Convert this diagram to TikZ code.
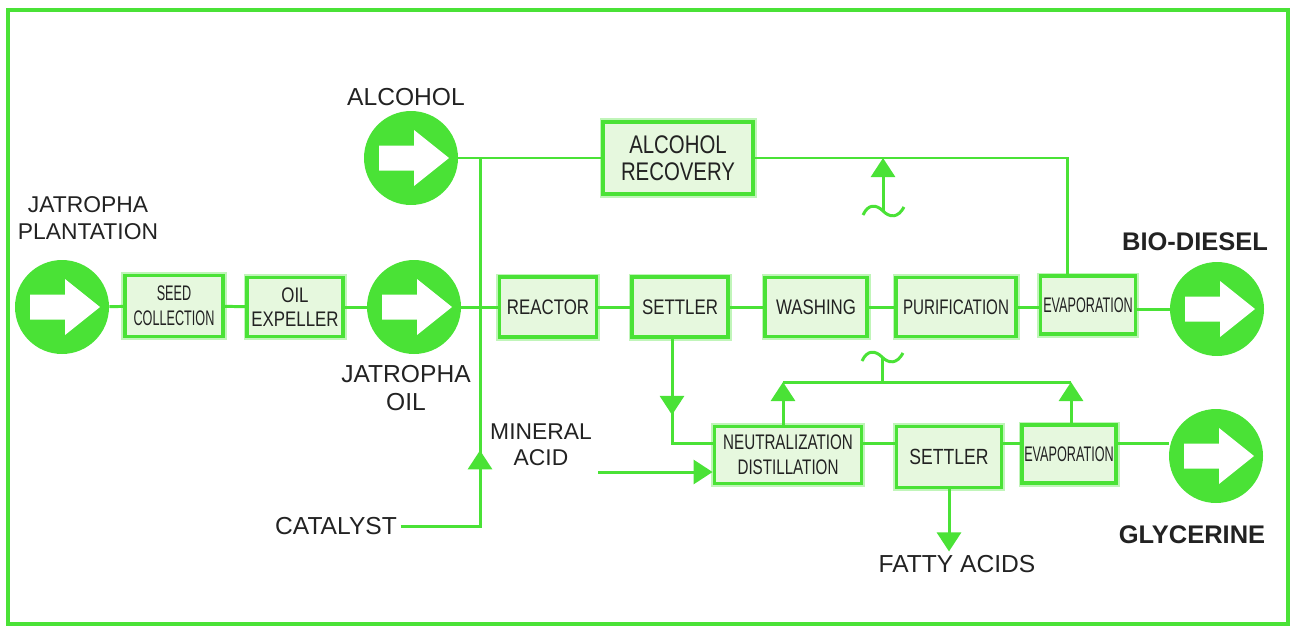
\documentclass[tikz,border=0pt]{standalone}
\usepackage{fontspec}
\setmainfont{Liberation Sans}
\newfontfamily\narrowfont[FakeStretch=0.8]{Liberation Sans}
\newfontfamily\slimfont[FakeStretch=0.72]{Liberation Sans}
\newfontfamily\thinfont[FakeStretch=0.6]{Liberation Sans}
\usetikzlibrary{arrows.meta,decorations.markings}
\definecolor{leaf}{RGB}{74,226,54}
\definecolor{leafpale}{RGB}{230,248,222}
\definecolor{ink}{RGB}{34,34,34}
\tikzset{%
  >={Triangle[width=4.8mm,length=3.8mm]},
  % Specifications for style of nodes:
       unit/.style = {rectangle, draw=leaf, fill=leafpale, line width=2.2pt,
                      preaction={draw=leaf!35, line width=4pt},
                      align=center, text=ink, inner sep=1pt,
                      font=\narrowfont\fontsize{12}{14}\selectfont},
   slimunit/.style = {unit, font=\slimfont\fontsize{12}{14}\selectfont},
   thinunit/.style = {unit, font=\thinfont\fontsize{12}{14}\selectfont},
    flowdot/.style = {circle, fill=leaf, minimum size=1.88cm, inner sep=0pt,
                      path picture={\fill[white,
                        shift={(path picture bounding box.center)}]
                        (-32,-12.5) -- (3,-12.5) -- (3,-28) -- (38,0)
                        -- (3,28) -- (3,12.5) -- (-32,12.5) -- cycle;}},
        txt/.style = {inner sep=2pt, align=center, text=ink},
       flow/.style = {draw=leaf, line width=1.7pt},
      frame/.style = {draw=leaf, line width=1.8pt},
    arrowat/.style = {postaction={decorate}, decoration={markings,
                      mark=at position #1 with
                      {\arrow{Triangle[width=4.8mm,length=3.8mm]}}}},
       wave/.pic   = {\draw[flow] (-20,4) .. controls (-15,-7) and (-7,-7) .. (0,0)
                      .. controls (7,7) and (15,7) .. (21,-4);},
}
\begin{document}
\begin{tikzpicture}[x=0.02cm, y=-0.02cm, font=\fontsize{14}{17}\selectfont]
  \useasboundingbox (0,0) rectangle (1290,626);
  \draw[frame] (8,10) rectangle (1288,624);

  % Specification of nodes (position, etc.)
  \node (plant)    [flowdot]                          at (62,307)   {};
  \node (seed)     [thinunit, minimum width=1.96cm, minimum height=1.22cm]
                                                      at (174,306)  {SEED\\COLLECTION};
  \node (expel)    [unit, minimum width=1.92cm, minimum height=1.18cm]
                                                      at (295,307)  {OIL\\EXPELLER};
  \node (oil)      [flowdot]                          at (414,307)  {};
  \node (alc)      [flowdot]                          at (411,158)  {};
  \node (recov)    [unit, minimum width=3cm, minimum height=1.44cm,
                    font=\narrowfont\fontsize{14.5}{15.5}\selectfont]
                                                      at (678,158)  {ALCOHOL\\RECOVERY};
  \node (reactor)  [unit, minimum width=1.94cm, minimum height=1.2cm]
                                                      at (548,307)  {REACTOR};
  \node (settler)  [unit, minimum width=1.92cm, minimum height=1.2cm]
                                                      at (680,307)  {SETTLER};
  \node (wash)     [unit, minimum width=2.04cm, minimum height=1.18cm]
                                                      at (816,307)  {WASHING};
  \node (purif)    [slimunit, minimum width=2.4cm, minimum height=1.18cm]
                                                      at (956,307)  {PURIFICATION};
  \node (evap1)    [thinunit, minimum width=1.9cm, minimum height=1.16cm]
                                                      at (1088,305) {EVAPORATION};
  \node (biod)     [flowdot]                          at (1217,309) {};
  \node (neut)     [slimunit, minimum width=2.94cm, minimum height=1.14cm]
                                                      at (788,455)  {NEUTRALIZATION\\DISTILLATION};
  \node (settler2) [unit, minimum width=2.1cm, minimum height=1.22cm,
                    font=\narrowfont\fontsize{12.5}{14}\selectfont]
                                                      at (949,457)  {SETTLER};
  \node (evap2)    [thinunit, minimum width=1.88cm, minimum height=1.16cm]
                                                      at (1069,454) {EVAPORATION};
  \node (glyc)     [flowdot]                          at (1216,456) {};

  % Labels
  \node (plantlbl) [txt, font=\fontsize{13}{15.4}\selectfont] at (88,218) {JATROPHA\\PLANTATION};
  \node (alclbl)   [txt]                              at (406,97)   {ALCOHOL};
  \node (oillbl)   [txt, font=\fontsize{14}{16}\selectfont] at (406,388) {JATROPHA\\OIL};
  \node (acidlbl)  [txt, font=\fontsize{13}{14.8}\selectfont] at (541,445) {MINERAL\\ACID};
  \node (cat)      [txt]                              at (336,526)  {CATALYST};
  \node (fatty)    [txt]                              at (957,564)  {FATTY ACIDS};
  \node (biolbl)   [txt, font=\bfseries\fontsize{14.5}{17}\selectfont] at (1195,242) {BIO-DIESEL};
  \node (glylbl)   [txt, font=\bfseries\fontsize{14.5}{17}\selectfont] at (1192,535) {GLYCERINE};

  % main line
  \draw[flow]     (plant) -- (seed);
  \draw[flow]      (seed) -- (expel);
  \draw[flow]     (expel) -- (oil);
  \draw[flow]       (oil) -- (reactor);
  \draw[flow]   (reactor) -- (settler);
  \draw[flow]   (settler) -- (wash);
  \draw[flow]      (wash) -- (purif);
  \draw[flow]     (purif) -- (evap1.west |- purif);
  \draw[flow] (evap1.east |- biod) -- (biod);

  % alcohol feed, catalyst and recovery
  \coordinate (feed) at (480,158);
  \draw[flow] (alc) -- (recov);
  \draw[flow] (recov.east) -| ([xshift=-0.41cm]evap1.north);
  \draw[flow, arrowat=3.1cm] (cat.east) -| (feed);
  \coordinate (tildeA) at (883,211);
  \pic at (tildeA) {wave};
  \draw[flow, ->] (tildeA) -- (tildeA |- recov.east);

  % glycerine side
  \coordinate (lowline) at (0,443);
  \coordinate (ret) at (0,382);
  \coordinate (acidin) at (598,472);
  \draw[flow, arrowat=1.52cm] ([xshift=-0.16cm]settler.south) |- (neut.west |- lowline);
  \draw[flow, ->] (acidin) -- (acidin -| neut.west);
  \draw[flow] (neut.east |- lowline) -- (settler2.west |- lowline);
  \draw[flow] (settler2.east |- lowline) -- (evap2.west |- lowline);
  \draw[flow] (evap2.east |- lowline) -- (glyc.west |- lowline);
  \draw[flow, ->] (settler2.south) -- (settler2.south |- fatty.north);
  \draw[flow] ([xshift=-0.1cm]neut.north |- ret) -- ([xshift=0.04cm]evap2.north |- ret);
  \draw[flow, ->] ([xshift=-0.1cm]neut.north) -- ([xshift=-0.1cm]neut.north |- ret);
  \draw[flow, ->] ([xshift=0.04cm]evap2.north) -- ([xshift=0.04cm]evap2.north |- ret);
  \coordinate (tildeB) at (882,357);
  \pic at (tildeB) {wave};
  \draw[flow] (tildeB) -- (tildeB |- ret);
\end{tikzpicture}
\end{document}
